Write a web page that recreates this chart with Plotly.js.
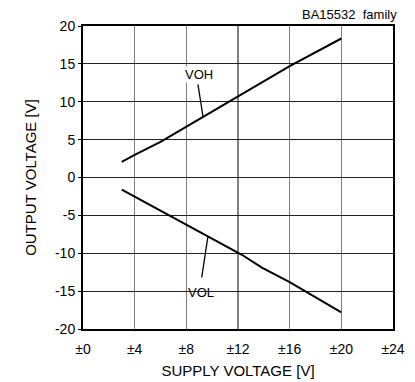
<!DOCTYPE html>
<html><head><meta charset="utf-8">
<script src="https://cdn.plot.ly/plotly-3.0.1.min.js"></script>
<style>html,body{margin:0;padding:0;background:#fff}#c{width:415px;height:382px}</style>
</head><body><div id="c"></div>
<script>
var supplyVOH = [3, 4, 6, 7.6, 12, 16, 20];
var voh = [2.07, 3.0, 4.7, 6.3, 10.6, 14.7, 18.35];
var supplyVOL = [3, 6, 9.7, 12.3, 13.85, 16, 20];
var vol = [-1.6, -4.4, -7.8, -10.2, -11.9, -13.8, -17.8];
var xTickVals = [0, 4, 8, 12, 16, 20, 24];
var xTickText = ['±0', '±4', '±8', '±12', '±16', '±20', '±24'];
var yTickVals = [-20, -15, -10, -5, 0, 5, 10, 15, 20];
var yTickText = ['-20', '-15', '-10', '-5', '0', '5', '10', '15', '20'];

var font = 'Liberation Sans, Arial, sans-serif';
var traces = [
  {x: supplyVOH, y: voh, mode: 'lines', line: {color: '#000', width: 2}, hoverinfo: 'skip'},
  {x: supplyVOL, y: vol, mode: 'lines', line: {color: '#000', width: 2}, hoverinfo: 'skip'}
];
var layout = {
  width: 415, height: 382,
  margin: {l: 83, r: 22, t: 26, b: 53},
  paper_bgcolor: '#fff', plot_bgcolor: '#fff',
  showlegend: false,
  font: {family: font, size: 14, color: '#000'},
  xaxis: {
    range: [0, 24], tickvals: xTickVals, ticktext: xTickText,
    showgrid: true, gridcolor: '#808080', gridwidth: 1.5,
    zeroline: false, showline: true, linecolor: '#000', linewidth: 2, mirror: true,
    ticks: '', tickfont: {size: 14}, ticklabelstandoff: 6,
    title: {text: 'SUPPLY VOLTAGE [V]', font: {size: 15}, standoff: 10}
  },
  yaxis: {
    range: [-20, 20], tickvals: yTickVals, ticktext: yTickText,
    showgrid: true, gridcolor: '#222', gridwidth: 1,
    zeroline: false, showline: true, linecolor: '#000', linewidth: 2, mirror: true,
    ticks: 'outside', ticklen: 3, tickcolor: '#000', tickfont: {size: 14},
    title: {text: 'OUTPUT VOLTAGE [V]', font: {size: 15}, standoff: 15}
  },
  shapes: [
    {type: 'line', xref: 'x', yref: 'y', x0: 8.9, y0: 12.3, x1: 9.29, y1: 8.05, line: {color: '#000', width: 1.3}},
    {type: 'line', xref: 'x', yref: 'y', x0: 9.19, y0: -13.2, x1: 9.67, y1: -7.8, line: {color: '#000', width: 1.3}}
  ],
  annotations: [
    {x: 9.0, y: 13.6, xref: 'x', yref: 'y', text: 'VOH', showarrow: false, font: {size: 13}, bgcolor: '#fff', borderpad: 0},
    {x: 9.13, y: -15.2, xref: 'x', yref: 'y', text: 'VOL', showarrow: false, font: {size: 13}},
    {x: 1, y: 1, xref: 'paper', yref: 'paper', xanchor: 'right', yanchor: 'bottom', yshift: 2, xshift: 6,
     text: 'BA15532&nbsp;&nbsp;family', showarrow: false, font: {size: 13}}
  ]
};
Plotly.newPlot('c', traces, layout, {staticPlot: true, displayModeBar: false});
</script></body></html>
